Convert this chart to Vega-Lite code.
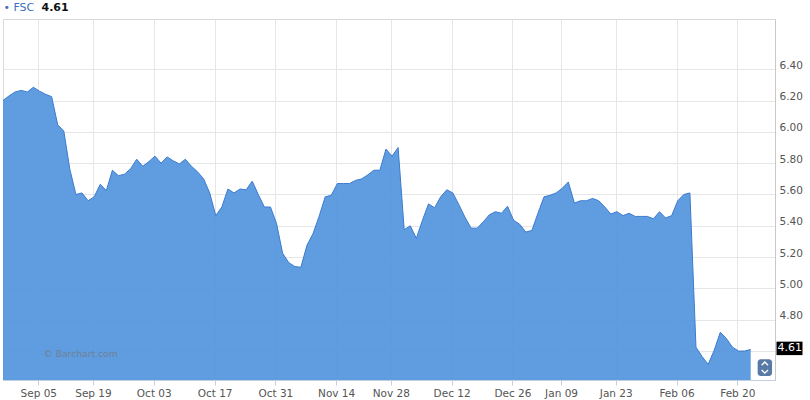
{
  "$schema": "https://vega.github.io/schema/vega-lite/v6.json",
  "width": 772,
  "height": 361,
  "autosize": {"type": "none"},
  "padding": {"left": 3, "top": 19, "right": 35, "bottom": 20},
  "background": "white",
  "config": {
    "font": "DejaVu Sans",
    "view": {"stroke": "#d9d9d9", "strokeWidth": 1}
  },
  "datasets": {
    "prices": [
      {"date": "2016-08-26", "close": 6.20},
      {"date": "2016-08-29", "close": 6.23},
      {"date": "2016-08-30", "close": 6.255},
      {"date": "2016-08-31", "close": 6.265},
      {"date": "2016-09-01", "close": 6.255},
      {"date": "2016-09-02", "close": 6.285},
      {"date": "2016-09-06", "close": 6.26},
      {"date": "2016-09-07", "close": 6.24},
      {"date": "2016-09-08", "close": 6.225},
      {"date": "2016-09-09", "close": 6.045},
      {"date": "2016-09-12", "close": 6.005},
      {"date": "2016-09-13", "close": 5.76},
      {"date": "2016-09-14", "close": 5.60},
      {"date": "2016-09-15", "close": 5.61},
      {"date": "2016-09-16", "close": 5.56},
      {"date": "2016-09-19", "close": 5.585},
      {"date": "2016-09-20", "close": 5.665},
      {"date": "2016-09-21", "close": 5.625},
      {"date": "2016-09-22", "close": 5.755},
      {"date": "2016-09-23", "close": 5.72},
      {"date": "2016-09-26", "close": 5.73},
      {"date": "2016-09-27", "close": 5.765},
      {"date": "2016-09-28", "close": 5.825},
      {"date": "2016-09-29", "close": 5.78},
      {"date": "2016-09-30", "close": 5.81},
      {"date": "2016-10-03", "close": 5.845},
      {"date": "2016-10-04", "close": 5.80},
      {"date": "2016-10-05", "close": 5.84},
      {"date": "2016-10-06", "close": 5.815},
      {"date": "2016-10-07", "close": 5.795},
      {"date": "2016-10-10", "close": 5.825},
      {"date": "2016-10-11", "close": 5.78},
      {"date": "2016-10-12", "close": 5.745},
      {"date": "2016-10-13", "close": 5.70},
      {"date": "2016-10-14", "close": 5.61},
      {"date": "2016-10-17", "close": 5.465},
      {"date": "2016-10-18", "close": 5.52},
      {"date": "2016-10-19", "close": 5.635},
      {"date": "2016-10-20", "close": 5.61},
      {"date": "2016-10-21", "close": 5.635},
      {"date": "2016-10-24", "close": 5.63},
      {"date": "2016-10-25", "close": 5.685},
      {"date": "2016-10-26", "close": 5.60},
      {"date": "2016-10-27", "close": 5.52},
      {"date": "2016-10-28", "close": 5.52},
      {"date": "2016-10-31", "close": 5.415},
      {"date": "2016-11-01", "close": 5.225},
      {"date": "2016-11-02", "close": 5.165},
      {"date": "2016-11-03", "close": 5.14},
      {"date": "2016-11-04", "close": 5.135},
      {"date": "2016-11-07", "close": 5.275},
      {"date": "2016-11-08", "close": 5.35},
      {"date": "2016-11-09", "close": 5.46},
      {"date": "2016-11-10", "close": 5.585},
      {"date": "2016-11-11", "close": 5.595},
      {"date": "2016-11-14", "close": 5.67},
      {"date": "2016-11-15", "close": 5.67},
      {"date": "2016-11-16", "close": 5.67},
      {"date": "2016-11-17", "close": 5.69},
      {"date": "2016-11-18", "close": 5.70},
      {"date": "2016-11-21", "close": 5.725},
      {"date": "2016-11-22", "close": 5.755},
      {"date": "2016-11-23", "close": 5.755},
      {"date": "2016-11-25", "close": 5.89},
      {"date": "2016-11-28", "close": 5.845},
      {"date": "2016-11-29", "close": 5.90},
      {"date": "2016-11-30", "close": 5.375},
      {"date": "2016-12-01", "close": 5.40},
      {"date": "2016-12-02", "close": 5.32},
      {"date": "2016-12-05", "close": 5.435},
      {"date": "2016-12-06", "close": 5.54},
      {"date": "2016-12-07", "close": 5.515},
      {"date": "2016-12-08", "close": 5.585},
      {"date": "2016-12-09", "close": 5.63},
      {"date": "2016-12-12", "close": 5.61},
      {"date": "2016-12-13", "close": 5.535},
      {"date": "2016-12-14", "close": 5.455},
      {"date": "2016-12-15", "close": 5.385},
      {"date": "2016-12-16", "close": 5.385},
      {"date": "2016-12-19", "close": 5.425},
      {"date": "2016-12-20", "close": 5.47},
      {"date": "2016-12-21", "close": 5.49},
      {"date": "2016-12-22", "close": 5.48},
      {"date": "2016-12-23", "close": 5.525},
      {"date": "2016-12-27", "close": 5.435},
      {"date": "2016-12-28", "close": 5.41},
      {"date": "2016-12-29", "close": 5.36},
      {"date": "2016-12-30", "close": 5.37},
      {"date": "2017-01-03", "close": 5.48},
      {"date": "2017-01-04", "close": 5.585},
      {"date": "2017-01-05", "close": 5.595},
      {"date": "2017-01-06", "close": 5.61},
      {"date": "2017-01-09", "close": 5.64},
      {"date": "2017-01-10", "close": 5.68},
      {"date": "2017-01-11", "close": 5.545},
      {"date": "2017-01-12", "close": 5.56},
      {"date": "2017-01-13", "close": 5.56},
      {"date": "2017-01-17", "close": 5.575},
      {"date": "2017-01-18", "close": 5.56},
      {"date": "2017-01-19", "close": 5.52},
      {"date": "2017-01-20", "close": 5.475},
      {"date": "2017-01-23", "close": 5.49},
      {"date": "2017-01-24", "close": 5.465},
      {"date": "2017-01-25", "close": 5.48},
      {"date": "2017-01-26", "close": 5.46},
      {"date": "2017-01-27", "close": 5.46},
      {"date": "2017-01-30", "close": 5.46},
      {"date": "2017-01-31", "close": 5.445},
      {"date": "2017-02-01", "close": 5.49},
      {"date": "2017-02-02", "close": 5.45},
      {"date": "2017-02-03", "close": 5.465},
      {"date": "2017-02-06", "close": 5.56},
      {"date": "2017-02-07", "close": 5.60},
      {"date": "2017-02-08", "close": 5.61},
      {"date": "2017-02-09", "close": 4.625},
      {"date": "2017-02-10", "close": 4.565},
      {"date": "2017-02-13", "close": 4.515},
      {"date": "2017-02-14", "close": 4.605},
      {"date": "2017-02-15", "close": 4.72},
      {"date": "2017-02-16", "close": 4.68},
      {"date": "2017-02-17", "close": 4.625},
      {"date": "2017-02-21", "close": 4.60},
      {"date": "2017-02-22", "close": 4.60},
      {"date": "2017-02-23", "close": 4.61}
    ]
  },
  "layer": [
    {
      "data": {"name": "prices"},
      "mark": {"type": "area", "color": "#4f92dd", "opacity": 0.9, "clip": true, "interpolate": "linear"},
      "encoding": {
        "x": {
          "field": "date",
          "type": "ordinal",
          "scale": {
            "type": "point",
            "padding": -0.33,
            "domain": ["2016-08-26","2016-08-29","2016-08-30","2016-08-31","2016-09-01","2016-09-02","2016-09-06","2016-09-07","2016-09-08","2016-09-09","2016-09-12","2016-09-13","2016-09-14","2016-09-15","2016-09-16","2016-09-19","2016-09-20","2016-09-21","2016-09-22","2016-09-23","2016-09-26","2016-09-27","2016-09-28","2016-09-29","2016-09-30","2016-10-03","2016-10-04","2016-10-05","2016-10-06","2016-10-07","2016-10-10","2016-10-11","2016-10-12","2016-10-13","2016-10-14","2016-10-17","2016-10-18","2016-10-19","2016-10-20","2016-10-21","2016-10-24","2016-10-25","2016-10-26","2016-10-27","2016-10-28","2016-10-31","2016-11-01","2016-11-02","2016-11-03","2016-11-04","2016-11-07","2016-11-08","2016-11-09","2016-11-10","2016-11-11","2016-11-14","2016-11-15","2016-11-16","2016-11-17","2016-11-18","2016-11-21","2016-11-22","2016-11-23","2016-11-25","2016-11-28","2016-11-29","2016-11-30","2016-12-01","2016-12-02","2016-12-05","2016-12-06","2016-12-07","2016-12-08","2016-12-09","2016-12-12","2016-12-13","2016-12-14","2016-12-15","2016-12-16","2016-12-19","2016-12-20","2016-12-21","2016-12-22","2016-12-23","2016-12-27","2016-12-28","2016-12-29","2016-12-30","2017-01-03","2017-01-04","2017-01-05","2017-01-06","2017-01-09","2017-01-10","2017-01-11","2017-01-12","2017-01-13","2017-01-17","2017-01-18","2017-01-19","2017-01-20","2017-01-23","2017-01-24","2017-01-25","2017-01-26","2017-01-27","2017-01-30","2017-01-31","2017-02-01","2017-02-02","2017-02-03","2017-02-06","2017-02-07","2017-02-08","2017-02-09","2017-02-10","2017-02-13","2017-02-14","2017-02-15","2017-02-16","2017-02-17","2017-02-21","2017-02-22","2017-02-23","2017-02-24","2017-02-27","2017-02-28","2017-03-01"]
          },
          "axis": {
            "title": null,
            "values": ["2016-09-06","2016-09-19","2016-10-03","2016-10-17","2016-10-31","2016-11-14","2016-11-28","2016-12-12","2016-12-27","2017-01-09","2017-01-23","2017-02-06","2017-02-21"],
            "labelExpr": "datum.value == '2016-09-06' ? 'Sep 05' : datum.value == '2016-12-27' ? 'Dec 26' : datum.value == '2017-02-21' ? 'Feb 20' : utcFormat(toDate(datum.value), '%b %d')",
            "labelAngle": 0,
            "labelFont": "DejaVu Sans",
            "labelFontSize": 10.5,
            "labelColor": "#555555",
            "labelPadding": 3,
            "tickSize": 5,
            "tickOffset": -1.2,
            "tickColor": "#c0d0e0",
            "domainColor": "#c0d0e0",
            "grid": true,
            "gridColor": "#e6e6e6"
          }
        },
        "y": {
          "field": "close",
          "type": "quantitative",
          "scale": {"domain": [4.415, 6.721], "nice": false, "zero": false},
          "axis": {
            "orient": "right",
            "title": null,
            "values": [4.6, 4.8, 5.0, 5.2, 5.4, 5.6, 5.8, 6.0, 6.2, 6.4],
            "labelExpr": "datum.value < 4.7 ? '' : format(datum.value, '.2f')",
            "ticks": false,
            "labelPadding": 4,
            "labelFont": "DejaVu Sans",
            "labelFontSize": 10.5,
            "labelColor": "#555555",
            "labelBaseline": "alphabetic",
            "labelOffset": -1,
            "domainColor": "#c8c8c8",
            "grid": true,
            "gridColor": "#e6e6e6"
          }
        }
      }
    },
    {
      "data": {"name": "prices"},
      "mark": {"type": "line", "color": "#3b7bcf", "strokeWidth": 1, "clip": true},
      "encoding": {
        "x": {"field": "date", "type": "ordinal"},
        "y": {"field": "close", "type": "quantitative"}
      }
    },
    {
      "data": {"values": [{"label": "© Barchart.com"}]},
      "mark": {"type": "text", "align": "left", "baseline": "middle", "fontSize": 9.2, "color": "#6f7f96", "dx": -2},
      "encoding": {
        "x": {"datum": "2016-09-07", "type": "ordinal"},
        "y": {"datum": 4.581, "type": "quantitative"},
        "text": {"field": "label"}
      }
    },
    {
      "data": {"values": [{"label": "• FSC"}]},
      "mark": {"type": "text", "align": "left", "baseline": "middle", "fontSize": 11, "color": "#3d6fc0", "dx": 0.5},
      "encoding": {
        "x": {"datum": "2016-08-26", "type": "ordinal"},
        "y": {"datum": 6.79, "type": "quantitative"},
        "text": {"field": "label"}
      }
    },
    {
      "data": {"values": [{"label": "4.61"}]},
      "mark": {"type": "text", "align": "left", "baseline": "middle", "fontSize": 11, "fontWeight": "bold", "color": "#111111", "dx": 2},
      "encoding": {
        "x": {"datum": "2016-09-06", "type": "ordinal"},
        "y": {"datum": 6.79, "type": "quantitative"},
        "text": {"field": "label"}
      }
    },
    {
      "data": {"values": [{"label": "4.61"}]},
      "mark": {"type": "rect", "color": "#000000", "xOffset": 1.5, "x2Offset": 27.5},
      "encoding": {
        "x": {"datum": "2017-03-01", "type": "ordinal"},
        "x2": {"datum": "2017-03-01"},
        "y": {"datum": 4.66, "type": "quantitative"},
        "y2": {"datum": 4.574}
      }
    },
    {
      "data": {"values": [{"label": "4.61"}]},
      "mark": {"type": "text", "align": "left", "baseline": "alphabetic", "fontSize": 11, "color": "#ffffff", "dx": 2.5, "dy": 1.3},
      "encoding": {
        "x": {"datum": "2017-03-01", "type": "ordinal"},
        "y": {"datum": 4.61, "type": "quantitative"},
        "text": {"field": "label"}
      }
    },
    {
      "data": {"values": [{"label": "scroll"}]},
      "mark": {"type": "rect", "color": "#577aa6", "cornerRadius": 3, "xOffset": -5.2, "x2Offset": 9.2},
      "encoding": {
        "x": {"datum": "2017-02-27", "type": "ordinal"},
        "x2": {"datum": "2017-02-27"},
        "y": {"datum": 4.547, "type": "quantitative"},
        "y2": {"datum": 4.44}
      }
    },
    {
      "data": {"values": [{"dir": "up", "v": 4.52}, {"dir": "down", "v": 4.469}]},
      "mark": {"type": "point", "filled": false, "stroke": "#ffffff", "strokeWidth": 1.4, "opacity": 1, "size": 40, "xOffset": 2},
      "encoding": {
        "x": {"datum": "2017-02-27", "type": "ordinal"},
        "y": {"field": "v", "type": "quantitative"},
        "shape": {
          "field": "dir",
          "type": "nominal",
          "scale": {"domain": ["up", "down"], "range": ["M-1,0.5L0,-0.5L1,0.5", "M-1,-0.5L0,0.5L1,-0.5"]},
          "legend": null
        }
      }
    }
  ]
}
